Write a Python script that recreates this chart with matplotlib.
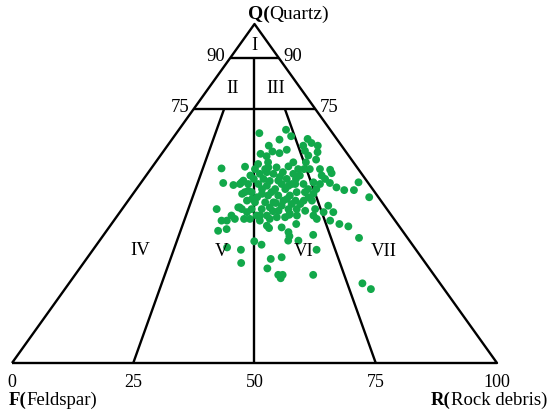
import matplotlib
matplotlib.use("Agg")
import matplotlib.pyplot as plt

# sandstone QFR composition, percent (Q = quartz, R = rock debris; F is the rest)
quartz = [67.8, 68.8, 66.9, 65.9, 64.1, 61.7, 62.4, 61.9, 62.9, 61.0,
          66.1, 64.9, 64.1, 64.1, 62.6, 62.2, 61.2, 60.0, 59.2, 58.7,
          57.4, 57.9, 57.7, 58.0, 57.2, 57.2, 57.0, 56.0, 55.3, 54.3,
          53.1, 52.5, 53.3, 53.1, 51.8, 51.0, 51.0, 53.3, 48.9, 45.4,
          42.0, 42.0, 39.0, 39.5, 43.5, 42.5, 42.5, 45.9, 43.5, 42.5,
          40.5, 39.8, 40.0, 41.0, 43.7, 43.5, 42.5, 46.4, 44.5, 42.0,
          41.0, 40.3, 36.9, 37.8, 37.4, 36.1, 36.1, 35.9, 34.9, 34.1,
          33.4, 29.5, 30.7, 31.2, 27.9, 26.0, 26.0, 25.0, 26.0, 33.4,
          23.5, 21.8,
          59.2, 55.3, 55.8, 56.3, 55.8, 53.8, 54.3, 52.8, 52.8, 52.8,
          52.8, 52.3, 51.3, 51.3, 49.9, 50.4, 49.9, 49.4, 49.4, 49.4,
          47.9, 47.4, 47.4, 47.4, 47.9, 46.9, 45.4, 45.4, 45.4, 45.9,
          44.9, 45.4, 43.5, 43.5, 43.0, 43.0,
          55.8, 55.3, 52.8, 52.8, 53.3, 52.8, 50.4, 50.4, 49.9, 47.9,
          47.9, 47.9, 45.4, 44.9, 45.4, 43.5, 44.5, 59.2, 52.3, 48.9,
          54.3, 54.3, 52.8, 50.4, 48.9, 46.4, 44.5, 42.0, 38.6, 57.2,
          57.7, 56.3, 53.8, 57.2, 50.8, 45.9,
          57.2, 54.9, 53.7, 51.3, 48.4, 47.2, 48.4, 46.9, 51.3, 51.3,
          50.4, 44.0, 44.8, 42.5, 57.2, 54.3]
rock = [17.1, 22.1, 24.1, 22.2, 20.9, 20.4, 22.5, 24.2, 25.2, 22.0,
        27.9, 29.3, 28.0, 31.0, 29.1, 31.9, 30.5, 32.7, 31.0, 21.4,
        14.5, 19.1, 24.0, 28.0, 32.8, 34.9, 37.1, 37.9, 36.2, 37.4,
        17.0, 19.4, 20.7, 39.0, 41.0, 43.0, 45.0, 44.8, 49.2, 19.5,
        22.2, 23.3, 23.0, 24.5, 23.5, 24.7, 26.6, 24.0, 29.4, 31.9,
        32.3, 33.1, 35.6, 38.1, 35.3, 37.0, 41.6, 42.0, 44.0, 44.6,
        47.0, 49.2, 53.1, 43.2, 38.5, 41.0, 38.9, 32.0, 34.0, 27.3,
        30.5, 32.5, 38.0, 40.0, 38.7, 41.9, 42.8, 42.9, 49.1, 46.1,
        60.5, 63.1,
        23.2, 21.5, 23.2, 24.4, 26.0, 28.0, 29.5, 31.3, 20.6, 22.3,
        24.4, 26.4, 28.6, 30.7, 22.5, 24.2, 26.6, 28.1, 30.2, 32.6,
        24.5, 26.4, 28.5, 30.2, 32.0, 34.2, 24.7, 26.7, 28.8, 30.2,
        32.5, 34.3, 28.7, 30.8, 33.1, 34.8,
        30.1, 31.7, 32.0, 33.7, 35.5, 37.1, 33.5, 35.2, 37.2, 34.5,
        36.2, 37.9, 36.0, 38.0, 39.8, 40.4, 42.0, 28.4, 30.9, 36.7,
        24.7, 22.7, 29.2, 28.3, 26.1, 32.4, 26.2, 30.1, 37.7, 30.4,
        25.7, 27.7, 20.8, 23.6, 23.3, 23.7,
        21.5, 27.8, 26.3, 25.9, 25.3, 30.8, 32.5, 36.0, 35.4, 37.1,
        22.8, 35.3, 31.4, 27.8, 31.6, 31.4]

base_ticks = [0, 25, 50, 75, 100]
q_levels = [90, 75]
fields = ["I", "II", "III", "IV", "V", "VI", "VII"]

plt.rcParams['font.family'] = ['Liberation Serif', 'DejaVu Serif']

fig = plt.figure(figsize=(5.5, 4.14), dpi=100)
ax = fig.add_axes([0, 0, 1, 1])
ax.set_xlim(-12 / 4.85, 538 / 4.85)
ax.set_ylim(-50 / 3.39, 364 / 3.39)
ax.axis('off')


def tern(q, r):
    # q, r in percent -> plot coords (base 0..100, apex at 50,100)
    return r + q / 2, q


def tern_ratio(q, ratio):
    # ratio = R/(F+R) in percent
    return tern(q, (100 - q) * ratio / 100)


lw = 1.7
kw = dict(color='black', lw=lw, solid_capstyle='butt', zorder=1)
ax.plot([0, 100, 50, 0], [0, 0, 100, 0], **kw)
for q in q_levels:
    x0, _ = tern(q, 0)
    x1, _ = tern(q, 100 - q)
    ax.plot([x0, x1], [q, q], **kw)
# split lines on R/(F+R)
for ratio, qtop in [(50, 90), (25, 75), (75, 75)]:
    xa, ya = tern_ratio(qtop, ratio)
    xb, yb = tern_ratio(0, ratio)
    ax.plot([xa, xb], [ya, yb], **kw)

xs = [r + q / 2 for q, r in zip(quartz, rock)]
ax.scatter(xs, quartz, s=32, color='#12a84a', edgecolors='none', zorder=2)

fs = 13.5
# field labels
pos = {"I": (50, 94.1), "II": (45.4, 81.4), "III": (54.4, 81.4),
       "IV": (26.4, 33.4), "V": (43.3, 33.2), "VI": (60.2, 33.2),
       "VII": (76.6, 33.2)}
for f in fields:
    ax.text(*pos[f], f, fontsize=fs, ha='center', va='center')

# Q level numbers
for q in q_levels:
    xl, _ = tern(q, 0)
    xr, _ = tern(q, 100 - q)
    ax.text(xl - 1.0, q + 0.8, str(q), fontsize=fs, ha='right', va='center')
    ax.text(xr + 1.0, q + 0.8, str(q), fontsize=fs, ha='left', va='center')

for t in base_ticks:
    ax.text(t, -5.6, str(t), fontsize=13, ha='center', va='center')


def two_part(x, y, bold, rest, ha='left', size=12):
    r = fig.canvas.get_renderer()
    t1 = ax.text(x, y, bold, fontsize=size, fontweight='bold', ha='left',
                 va='baseline')
    t2 = ax.text(x, y, rest, fontsize=size, ha='left', va='baseline')
    w1 = t1.get_window_extent(r).width
    w2 = t2.get_window_extent(r).width
    inv = ax.transData.inverted()
    px, py = ax.transData.transform((x, y))
    if ha == 'right':
        px -= w1 + w2
    t1.set_position(inv.transform((px, py)))
    t2.set_position(inv.transform((px + w1, py)))


two_part((248 - 12) / 4.85, (364 - 19) / 3.39, "Q(", "Quartz)", size=14)
two_part((9 - 12) / 4.85, (364 - 405) / 3.39, "F(", "Feldspar)", size=13.5)
two_part((547 - 12) / 4.85, (364 - 405) / 3.39, "R(", "Rock debris)",
         ha='right', size=13.5)

fig.savefig("out.png", dpi=100)
